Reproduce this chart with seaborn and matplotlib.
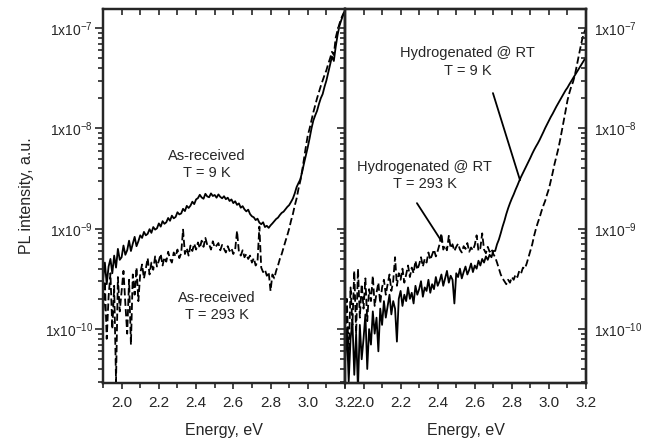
import numpy as np
import matplotlib
matplotlib.use("Agg")
import matplotlib.pyplot as plt
from matplotlib.ticker import LogLocator, NullFormatter, FuncFormatter, MultipleLocator
import seaborn as sns

# Photon energy grid of the spectrometer scans (eV)
energy_ev = np.round(np.arange(1.90, 3.2001, 0.01), 2)

# PL intensities in units of 1e-10 a.u.
as_received_9k = [
    3.1, 4.6, 2.8, 4.2, 5.0, 3.6, 5.4, 4.1, 6.3, 4.9, 5.2, 6.8, 5.5, 6.1, 7.6, 6.0, 7.1, 8.3, 6.7, 7.5, 8.6,
    8.1, 9.3, 8.6, 8.9, 9.9, 9.1, 10.4, 9.8, 10.1, 11.3, 10.5, 11.9, 11.2, 11.6, 12.8,
    12.0, 13.5, 12.7, 13.1, 14.6, 13.9, 14.2, 15.8, 15.0, 16.9, 16.1, 17.0, 18.6, 17.6, 19.6,
    20.2, 21.8, 20.5, 19.9, 22.3, 21.0, 20.6, 22.5, 21.2, 21.7, 20.4, 22.0, 20.8, 20.1, 21.1,
    19.7, 20.4, 18.9, 19.6, 18.0, 18.8, 17.3, 17.9, 16.2, 16.8, 15.6, 14.9, 15.5, 14.0, 13.3,
    13.0, 12.2, 12.6, 11.5, 11.1, 11.6, 10.4, 10.7, 10.2, 10.8,
    11.3, 11.9, 12.5, 12.9, 13.7, 14.4, 14.8, 15.6, 16.5, 17.2,
    18.5, 20.0, 22.5, 26.0, 28.5, 31.0, 37.0, 45.0, 54.0, 65.0,
    80.0, 100.0, 120.0, 135.0, 150.0, 175.0, 200.0, 220.0, 260.0, 300.0,
    360.0, 430.0, 520.0, 470.0, 650.0, 850.0, 1050.0, 1200.0, 1350.0, 1450.0,
]
as_received_293k = [
    1.2, 3.0, 0.8, 2.1, 3.6, 1.0, 2.7, 0.3, 3.3, 1.5, 2.4, 3.8, 1.8, 0.9, 3.1, 0.7, 3.5, 2.2, 4.1, 1.9, 3.6,
    4.4, 3.2, 4.0, 5.1, 3.5, 4.6, 3.9, 5.3, 4.2, 4.8, 5.6, 4.3, 5.2, 4.7, 5.9,
    5.0, 4.6, 5.8, 5.3, 6.2, 5.1, 5.7, 9.8, 5.6, 6.4, 5.4, 6.8, 6.0, 7.1, 6.2,
    7.3, 6.4, 7.6, 6.6, 8.1, 6.9, 7.0, 6.2, 7.5, 6.5, 6.8, 7.2, 6.1, 6.9, 6.3,
    5.8, 6.7, 6.0, 6.4, 5.6, 6.2, 9.5, 5.9, 5.4, 6.1, 5.2, 5.6, 5.0, 5.4, 4.6,
    5.1, 4.3, 4.7, 10.5, 4.1, 3.7, 3.9, 3.4, 3.7, 2.4,
    3.5, 3.2, 3.8, 4.3, 5.0, 5.6, 6.5, 7.5, 8.6, 10.0,
    12.0, 14.0, 17.0, 20.0, 25.0, 30.0, 38.0, 50.0, 66.0, 85.0,
    100.0, 120.0, 145.0, 170.0, 200.0, 230.0, 265.0, 300.0, 340.0, 380.0,
    440.0, 500.0, 580.0, 540.0, 800.0, 950.0, 1100.0, 1250.0, 1380.0, 1500.0,
]
hydrogenated_9k = [
    0.45, 1.0, 0.3, 0.8, 1.2, 0.35, 0.9, 0.25, 1.1, 0.5, 0.8, 1.4, 0.4, 1.0, 0.7, 1.5, 0.9, 1.3, 0.6, 1.6, 1.1,
    1.9, 1.3, 1.7, 2.2, 1.4, 1.9, 1.6, 0.75, 2.0, 2.4, 1.7, 2.2, 1.9, 2.6, 2.0,
    2.3, 1.8, 2.7, 2.2, 2.5, 3.0, 2.1, 2.6, 2.4, 3.1, 2.3, 2.8, 2.5, 3.3, 2.7,
    3.0, 3.5, 2.7, 3.2, 3.8, 2.9, 3.4, 3.1, 1.8, 3.6, 3.3, 4.0, 3.2, 3.7, 4.2,
    3.5, 3.9, 4.5, 3.7, 4.3, 4.0, 4.8, 4.3, 5.0, 4.6, 5.3, 4.9, 5.5, 5.2, 6.0,
    6.0, 7.0, 7.8, 9.0, 10.5, 12.0, 14.0, 16.0, 18.0, 20.0,
    22.0, 24.5, 27.0, 30.0, 33.0, 36.0, 39.5, 43.0, 47.0, 51.0,
    56.0, 61.0, 66.0, 71.0, 77.0, 84.0, 92.0, 101.0, 110.0, 120.0,
    130.0, 140.0, 152.0, 165.0, 178.0, 192.0, 207.0, 223.0, 240.0, 255.0,
    275.0, 295.0, 315.0, 340.0, 365.0, 390.0, 420.0, 450.0, 480.0, 510.0,
]
hydrogenated_293k = [
    0.7, 2.0, 0.5, 2.6, 1.1, 3.8, 0.9, 4.0, 1.3, 2.8, 1.6, 3.2, 1.2, 2.5, 1.9, 3.4, 1.7, 2.3, 2.9, 1.8, 2.6,
    3.1, 2.2, 2.8, 3.5, 2.4, 3.0, 5.2, 2.7, 3.6, 3.1, 4.0, 2.9, 3.5, 4.3, 3.3,
    4.1, 3.6, 4.8, 3.9, 4.4, 5.2, 4.2, 5.0, 4.6, 5.8, 4.9, 5.5, 6.2, 5.3, 6.0,
    7.0, 9.0, 6.2, 6.8, 6.1, 8.5, 6.4, 7.0, 6.0, 6.6, 7.1, 6.2, 5.8, 6.7, 6.3,
    7.2, 5.9, 6.5, 6.1, 6.9, 8.6, 6.0, 6.4, 9.0, 6.2, 5.7, 6.6, 5.9, 6.3, 5.6,
    5.2, 4.6, 4.0, 3.5, 3.2, 3.0, 2.8, 3.1, 2.9, 3.3,
    3.1, 3.5, 3.3, 3.8, 3.6, 4.1, 4.0, 4.5, 5.2, 6.0,
    7.0, 8.5, 10.0, 11.5, 13.0, 15.0, 17.0, 19.0, 22.0, 25.0,
    30.0, 36.0, 44.0, 52.0, 62.0, 76.0, 95.0, 120.0, 150.0, 190.0,
    225.0, 260.0, 290.0, 340.0, 420.0, 520.0, 640.0, 780.0, 900.0, 1000.0,
]
unit = 1e-10

sns.set_style("ticks")
plt.rcParams["font.family"] = ["Liberation Sans", "DejaVu Sans"]
plt.rcParams["mathtext.fontset"] = "custom"
plt.rcParams["mathtext.rm"] = "Liberation Sans"
plt.rcParams["mathtext.default"] = "regular"
plt.rcParams["axes.linewidth"] = 1.6

YLIM = (2.9e-11, 1.55e-7)
XLIM = (1.9, 3.2)

fig = plt.figure(figsize=(6.55, 4.45), dpi=100)
ax_l = fig.add_axes([103 / 655, 1 - 383 / 445, 242 / 655, 374 / 445])
ax_r = fig.add_axes([345 / 655, 1 - 383 / 445, 241 / 655, 374 / 445])


def dec_label(v, pos):
    return "1x10$^{%d}$" % int(round(np.log10(v)))


def log_y(ax):
    ax.set_yscale("log")
    ax.set_ylim(*YLIM)
    ax.yaxis.set_major_locator(LogLocator(base=10))
    ax.yaxis.set_minor_locator(LogLocator(base=10, subs=np.arange(2, 10)))
    ax.yaxis.set_minor_formatter(NullFormatter())
    ax.yaxis.set_major_formatter(FuncFormatter(dec_label))


def draw_pair(ax, solid, dashed):
    sns.lineplot(x=energy_ev, y=np.array(solid) * unit, ax=ax, color="black",
                 lw=1.3, estimator=None, sort=False)
    sns.lineplot(x=energy_ev, y=np.array(dashed) * unit, ax=ax, color="black",
                 lw=1.3, estimator=None, sort=False, linestyle="--")
    ax.lines[-1].set_dashes([4, 1.8])


draw_pair(ax_l, as_received_9k, as_received_293k)
draw_pair(ax_r, hydrogenated_9k, hydrogenated_293k)

for ax in (ax_l, ax_r):
    log_y(ax)
    ax.set_xlim(*XLIM)
    ax.xaxis.set_major_locator(MultipleLocator(0.2))
    ax.xaxis.set_minor_locator(MultipleLocator(0.1))
    ax.xaxis.set_major_formatter(FuncFormatter(lambda v, p: f"{v:.1f}"))
    ax.tick_params(axis="x", which="major", direction="out", length=4.5, width=1.2,
                   labelsize=11, pad=5, top=False)
    ax.tick_params(axis="x", which="minor", direction="out", length=3.5, width=1.2, top=False)
    ax.set_xlabel("Energy, eV", fontsize=11.5, labelpad=9)
    for s in ax.spines.values():
        s.set_color("black")
    # mirrored ticks along the top edge, pointing inward
    top = ax.twiny()
    top.set_xlim(*XLIM)
    top.xaxis.set_major_locator(MultipleLocator(0.2))
    top.xaxis.set_minor_locator(MultipleLocator(0.1))
    top.tick_params(axis="x", which="both", direction="in", length=4, width=1.2,
                    labeltop=False, bottom=False, labelbottom=False)
    top.tick_params(axis="y", which="both", left=False, right=False,
                    labelleft=False, labelright=False)

ax_l.tick_params(axis="y", which="major", direction="out", length=6, width=1.2,
                 labelsize=10, pad=1, right=False)
ax_l.tick_params(axis="y", which="minor", direction="out", length=3.5, width=1.2, right=False)
ax_l.set_ylabel("PL intensity, a.u.", fontsize=11.5, labelpad=8)

# ticks on the shared middle edge point into the left panel
ax_r.tick_params(axis="y", which="major", direction="out", length=6, width=1.2,
                 left=True, labelleft=False, right=False)
ax_r.tick_params(axis="y", which="minor", direction="out", length=3.5, width=1.2,
                 left=True, right=False)
ax_r.set_ylabel("")

# labelled scale on the right edge, ticks pointing inward
side = ax_r.twinx()
log_y(side)
side.tick_params(axis="y", which="major", direction="in", length=6, width=1.2,
                 labelsize=10, pad=6)
side.tick_params(axis="y", which="minor", direction="in", length=3.5, width=1.2)
side.tick_params(axis="x", which="both", top=False, bottom=False,
                 labeltop=False, labelbottom=False)

txt = dict(ha="center", va="center", fontsize=10.5, linespacing=1.3)
ax_l.text(2.456, 4.35e-9, "As-received\nT = 9 K", **txt)
ax_l.text(2.51, 1.69e-10, "As-received\nT = 293 K", **txt)
ax_r.text(2.563, 4.6e-8, "Hydrogenated @ RT\nT = 9 K", **txt)
ax_r.text(2.33, 3.4e-9, "Hydrogenated @ RT\nT = 293 K", **txt)

line = dict(arrowstyle="-", color="black", lw=1.3, shrinkA=0, shrinkB=0)
ax_r.annotate("", xy=(2.844, 3.05e-9), xytext=(2.698, 2.25e-8), arrowprops=line)
ax_r.annotate("", xy=(2.423, 7.4e-10), xytext=(2.288, 1.8e-9), arrowprops=line)

fig.savefig("out.png", dpi=100)
